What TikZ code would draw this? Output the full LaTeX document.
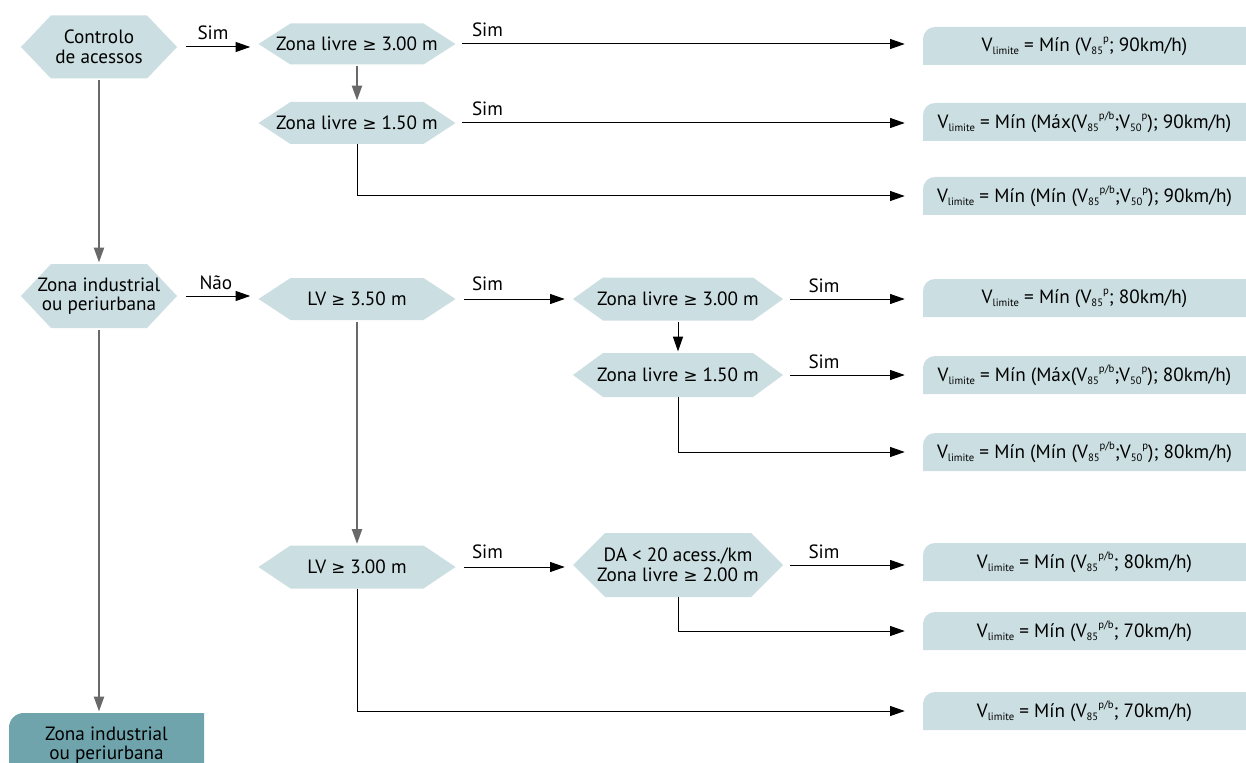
\documentclass[tikz,border=0pt]{standalone}
\usepackage{fontspec}
\setmainfont{PT Sans}
\newfontfamily\symfont{DejaVu Sans}
\usetikzlibrary{arrows.meta,calc}

\definecolor{hexcol}{RGB}{203,222,225}
\definecolor{rescol}{RGB}{203,222,225}
\definecolor{endcol}{RGB}{111,164,173}
\definecolor{lncol}{RGB}{105,105,105}

% small scripts used in the speed formulas
\newcommand\lo[1]{\raisebox{-0.3ex}{\fontsize{8}{8}\selectfont #1}}
\newcommand\hi[1]{\raisebox{0.95ex}{\fontsize{8}{8}\selectfont #1}}
\newcommand\Vlim{V\lo{limite}}
\newcommand\gesym{{\symfont\fontsize{12.5}{12}\selectfont ≥}}

\tikzset{
  x=0.75pt, y=-0.75pt,
  hextext/.style={inner sep=0pt, align=center, font=\fontsize{14.4}{14.6}\selectfont},
  restext/.style={inner sep=0pt, font=\fontsize{14.4}{14.6}\selectfont,
    minimum width=242.25pt, minimum height=28.5pt},
  lbl/.style={inner sep=0pt, anchor=base west, font=\fontsize{14.4}{14.6}\selectfont},
  arr/.style={draw=black, line width=0.75pt, -{Triangle[length=11pt,width=7.5pt]}},
  mainarr/.style={draw=lncol, line width=1.4pt, -{Triangle[length=11pt,width=7.5pt]},
    shorten <=1pt, shorten >=1pt},
  hexarr/.style={arr, shorten <=6.5pt, shorten >=6pt},
  resarr/.style={arr, shorten <=5pt, shorten >=13.5pt},
}

% decision hexagon: name, centre, flat width, height, tip depth, text
\newcommand\hexnode[6]{%
  \fill[hexcol] ($#2+(-#3/2-#5,0)$) -- ($#2+(-#3/2,#4/2)$) -- ($#2+(#3/2,#4/2)$)
    -- ($#2+(#3/2+#5,0)$) -- ($#2+(#3/2,-#4/2)$) -- ($#2+(-#3/2,-#4/2)$) -- cycle;
  \node[hextext, minimum width={(#3+2*#5)*0.75pt}, minimum height={#4*0.75pt}] (#1) at #2 {#6};}

% result box with a rounded upper-left corner: name, centre y, text
\newcommand\resnode[3]{%
  \fill[rescol] (923,#2+19) [rounded corners=9pt] -- (923,#2-19) [sharp corners]
    -- (1246,#2-19) -- (1246,#2+19) -- cycle;
  \node[restext] (#1) at (1084.5,#2) {#3};}

\begin{document}
\begin{tikzpicture}
\useasboundingbox[fill=white] (0,0) rectangle (1246,763);

% decisions
\hexnode{ctrl}{(99,47)}{96}{63}{30}{Controlo\\de acessos}
\hexnode{zA}{(357,44)}{133}{41}{32}{Zona livre \gesym{} 3.00 m}
\hexnode{zB}{(357,123)}{133}{42}{32}{Zona livre \gesym{} 1.50 m}
\hexnode{ind}{(99,296)}{96}{64}{30}{Zona industrial\\ou periurbana}
\hexnode{lvA}{(357,299)}{133}{42}{32}{LV \gesym{} 3.50 m}
\hexnode{lvB}{(357,567)}{133}{43}{32}{LV \gesym{} 3.00 m}
\hexnode{zC}{(678,299)}{150}{43}{30}{Zona livre \gesym{} 3.00 m}
\hexnode{zD}{(678,375)}{150}{44}{30}{Zona livre \gesym{} 1.50 m}
\hexnode{da}{(678,565)}{146}{64}{32}{DA < 20 acess./km\\Zona livre \gesym{} 2.00 m}

% speed limits
\resnode{r1}{46}{\Vlim{} = Mín (V\lo{85}\hi{p}; 90km/h)}
\resnode{r2}{122}{\Vlim{} = Mín (Máx(V\lo{85}\hi{p/b};V\lo{50}\hi{p}); 90km/h)}
\resnode{r3}{196}{\Vlim{} = Mín (Mín (V\lo{85}\hi{p/b};V\lo{50}\hi{p}); 90km/h)}
\resnode{r4}{298}{\Vlim{} = Mín (V\lo{85}\hi{p}; 80km/h)}
\resnode{r5}{375}{\Vlim{} = Mín (Máx(V\lo{85}\hi{p/b};V\lo{50}\hi{p}); 80km/h)}
\resnode{r6}{452}{\Vlim{} = Mín (Mín (V\lo{85}\hi{p/b};V\lo{50}\hi{p}); 80km/h)}
\resnode{r7}{562}{\Vlim{} = Mín (V\lo{85}\hi{p/b}; 80km/h)}
\resnode{r8}{631}{\Vlim{} = Mín (V\lo{85}\hi{p/b}; 70km/h)}
\resnode{r9}{711}{\Vlim{} = Mín (V\lo{85}\hi{p/b}; 70km/h)}

% terminal box
\fill[endcol] (9,763) [rounded corners=11pt] -- (9,713) [sharp corners] -- (204,713) -- (204,763) -- cycle;
\node[hextext, minimum width=146.25pt, minimum height=48pt] (fin) at (106.5,745) {Zona industrial\\ou periurbana};

% main spine
\draw[mainarr] (ctrl.south) -- (ind.north);
\draw[mainarr] (ind.south) -- (ind.south |- fin.north);
\draw[mainarr] (zA.south) -- (zB.north);
\draw[mainarr] (lvA.south) -- (lvB.north);
\draw[arr, shorten <=1pt, shorten >=1pt] (zC.south) -- (zD.north);

% decision to decision
\draw[hexarr] (ctrl.east) -- (ctrl.east -| zA.west);
\draw[hexarr] (ind.east) -- (ind.east -| lvA.west);
\draw[hexarr] (lvA.east) -- (lvA.east -| zC.west);
\draw[hexarr] (lvB.east) -- (lvB.east -| da.west);

% decision to result
\draw[resarr] (zA.east) -- (zA.east -| r1.west);
\draw[resarr] (zB.east) -- (zB.east -| r2.west);
\draw[resarr, shorten <=0pt] (zB.south) |- (r3.west);
\draw[resarr] (zC.east) -- (zC.east -| r4.west);
\draw[resarr] (zD.east) -- (zD.east -| r5.west);
\draw[resarr, shorten <=0pt] (zD.south) |- (r6.west);
\draw[resarr] (da.east) -- (da.east -| r7.west);
\draw[resarr, shorten <=0pt] (da.south) |- (r8.west);
\draw[resarr, shorten <=0pt] (lvB.south) |- (r9.west);

% branch labels
\node[lbl] (s1) at ($(ctrl.east)+(20,-7)$) {Sim};
\node[lbl] (s2) at ($(zA.east)+(16,-7)$) {Sim};
\node[lbl] (s3) at ($(zB.east)+(16,-7)$) {Sim};
\node[lbl] (n1) at ($(ind.east)+(22,-7)$) {Não};
\node[lbl] (s4) at ($(lvA.east)+(16,-9)$) {Sim};
\node[lbl] (s5) at ($(zC.east)+(25,-7)$) {Sim};
\node[lbl] (s6) at ($(zD.east)+(25,-7)$) {Sim};
\node[lbl] (s7) at ($(lvB.east)+(16,-9)$) {Sim};
\node[lbl] (s8) at ($(da.east)+(25,-7)$) {Sim};
\end{tikzpicture}
\end{document}
